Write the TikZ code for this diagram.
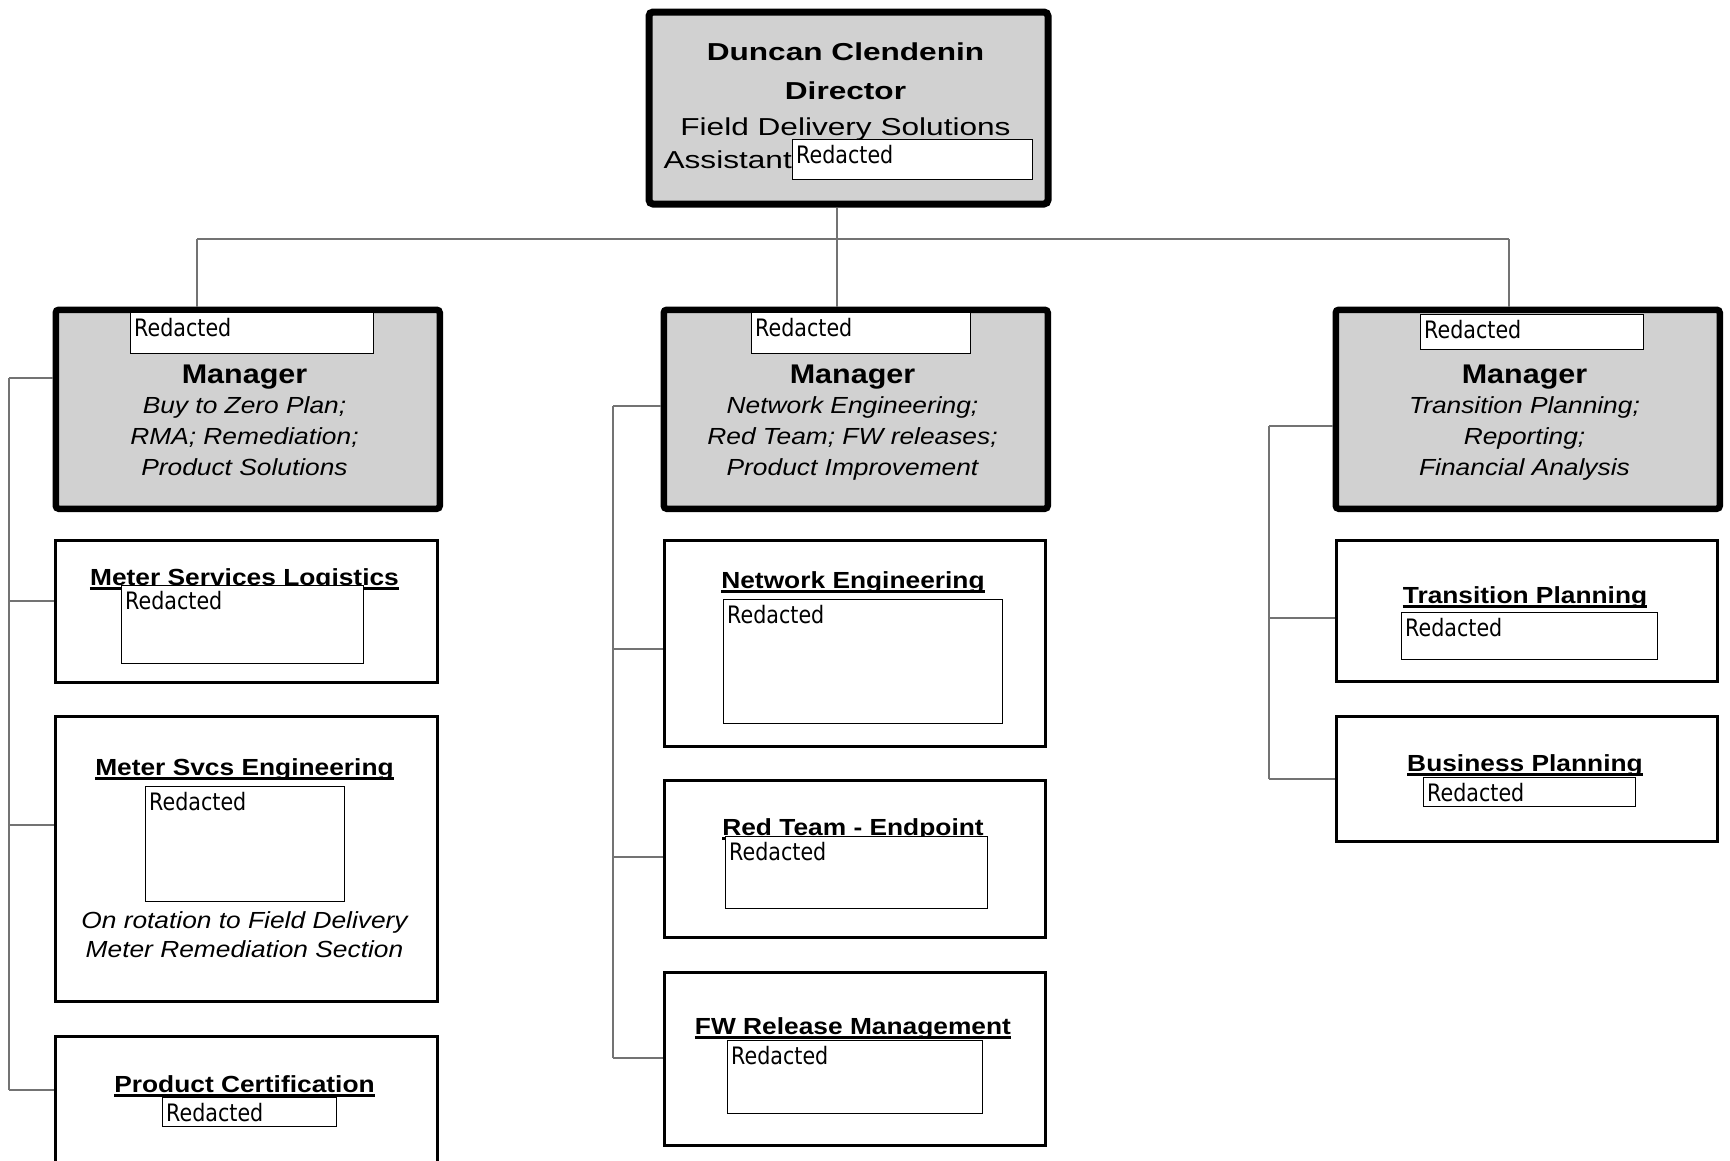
\documentclass[tikz,border=0pt]{standalone}
\usepackage{fontspec}
\setmainfont{Liberation Sans}[FakeStretch=1.13]
\newfontfamily\dirfont{Liberation Sans}[FakeStretch=1.29]
\newfontfamily\redfont{DejaVu Sans}[FakeStretch=0.86]
\tikzset{
  dirbox/.style={draw, line width=7pt, rounded corners=4pt, fill=black!18, inner sep=0pt, anchor=north west},
  mgrbox/.style={draw, line width=6.5pt, rounded corners=3pt, fill=black!18, inner sep=0pt, anchor=north west},
  unitbox/.style={draw, line width=3pt, fill=white, inner sep=0pt, anchor=north west},
  redbox/.style={draw, line width=1.2pt, fill=white, inner sep=0pt, anchor=north west},
  redtxt/.style={anchor=base west, inner sep=0pt, font=\redfont\fontsize{24}{28}\selectfont},
  dtxt/.style={anchor=base, inner sep=0pt, font=\dirfont\fontsize{24.5}{28}\selectfont},
  dbold/.style={anchor=base, inner sep=0pt, font=\dirfont\bfseries\fontsize{24.5}{28}\selectfont},
  mgrttl/.style={anchor=base, inner sep=0pt, font=\bfseries\fontsize{27}{30}\selectfont},
  itxt/.style={anchor=base, inner sep=0pt, font=\itshape\fontsize{23.3}{28}\selectfont},
  ttl/.style={anchor=base, inner sep=0pt, font=\bfseries\fontsize{23.3}{28}\selectfont},
  uline/.style={line width=2.5pt},
  conn/.style={draw=black!55, line width=1.3pt},
}
\begin{document}
\begin{tikzpicture}[x=1pt, y=-1pt]
\useasboundingbox (0,0) rectangle (1730,1160);
\clip (0,0) rectangle (1730,1160);

% ---------- boxes ----------
\node[dirbox, minimum width=399pt, minimum height=192pt] (dir) at (645.5,8.5) {};
\node[mgrbox, minimum width=384pt, minimum height=199pt] (mL) at (52.5,306.5) {};
\node[mgrbox, minimum width=384pt, minimum height=199pt] (mM) at (660.5,306.5) {};
\node[mgrbox, minimum width=384pt, minimum height=199pt] (mR) at (1332.5,306.5) {};

\node[unitbox, minimum width=382pt, minimum height=142pt] (uL1) at (53.5,538.5) {};
\node[unitbox, minimum width=382pt, minimum height=285pt] (uL2) at (53.5,714.5) {};
\node[unitbox, minimum width=382pt, minimum height=200pt] (uL3) at (53.5,1034.5) {};
\node[unitbox, minimum width=381pt, minimum height=206pt] (uM1) at (662.5,538.5) {};
\node[unitbox, minimum width=381pt, minimum height=157pt] (uM2) at (662.5,778.5) {};
\node[unitbox, minimum width=381pt, minimum height=173pt] (uM3) at (662.5,970.5) {};
\node[unitbox, minimum width=381pt, minimum height=141pt] (uR1) at (1334.5,538.5) {};
\node[unitbox, minimum width=381pt, minimum height=125pt] (uR2) at (1334.5,714.5) {};

% ---------- director text ----------
\node[dbold] (dname) at (845.5,60) {Duncan Clendenin};
\node[dbold] (dtitle) at (845.5,99) {Director};
\node[dtxt] (ddept) at (845.5,135) {Field Delivery Solutions};
\node[dtxt, anchor=base east] (dasst) at (792,168) {Assistant};

% ---------- manager text ----------
\node[mgrttl] (mLt) at (244.5,383) {Manager};
\node[itxt] (mLa) at (244.5,413) {Buy to Zero Plan;};
\node[itxt] (mLb) at (244.5,444) {RMA; Remediation;};
\node[itxt] (mLc) at (244.5,475) {Product Solutions};

\node[mgrttl] (mMt) at (852.5,383) {Manager};
\node[itxt] (mMa) at (852.5,413) {Network Engineering;};
\node[itxt] (mMb) at (852.5,444) {Red Team; FW releases;};
\node[itxt] (mMc) at (852.5,475) {Product Improvement};

\node[mgrttl] (mRt) at (1524.5,383) {Manager};
\node[itxt] (mRa) at (1524.5,413) {Transition Planning;};
\node[itxt] (mRb) at (1524.5,444) {Reporting;};
\node[itxt] (mRc) at (1524.5,475) {Financial Analysis};

% ---------- unit titles ----------
\node[ttl] (tL1) at (244.5,585) {Meter Services Logistics};
\node[ttl] (tL2) at (244.5,775) {Meter Svcs Engineering};
\node[itxt] (tL2a) at (244.5,928) {On rotation to Field Delivery};
\node[itxt] (tL2b) at (244.5,957) {Meter Remediation Section};
\node[ttl] (tL3) at (244.5,1092) {Product Certification};
\node[ttl] (tM1) at (853,588) {Network Engineering};
\node[ttl] (tM2) at (853,835) {Red Team - Endpoint};
\node[ttl] (tM3) at (853,1034) {FW Release Management};
\node[ttl] (tR1) at (1525,603) {Transition Planning};
\node[ttl] (tR2) at (1525,771) {Business Planning};
\foreach \t in {tL1,tL2,tL3,tM1,tM2,tM3,tR1,tR2}
  \draw[uline] ([yshift=-3.5pt]\t.base west) -- ([yshift=-3.5pt]\t.base east);

% ---------- redacted boxes ----------
\node[redbox, minimum width=240pt, minimum height=40pt] (rD) at (792,139) {};
\node[redbox, minimum width=243pt, minimum height=41pt] (rML) at (130,312) {};
\node[redbox, minimum width=219pt, minimum height=41pt] (rMM) at (751,312) {};
\node[redbox, minimum width=223pt, minimum height=35pt] (rMR) at (1420,314) {};
\node[redbox, minimum width=242pt, minimum height=78pt] (rL1) at (121,585) {};
\node[redbox, minimum width=199pt, minimum height=115pt] (rL2) at (145,786) {};
\node[redbox, minimum width=174pt, minimum height=29pt] (rL3) at (162,1097) {};
\node[redbox, minimum width=279pt, minimum height=124pt] (rM1) at (723,599) {};
\node[redbox, minimum width=262pt, minimum height=72pt] (rM2) at (725,836) {};
\node[redbox, minimum width=255pt, minimum height=73pt] (rM3) at (727,1040) {};
\node[redbox, minimum width=256pt, minimum height=47pt] (rR1) at (1401,612) {};
\node[redbox, minimum width=212pt, minimum height=29pt] (rR2) at (1423,777) {};
\foreach \r in {rD,rML,rMM,rMR,rL1,rL2,rL3,rM1,rM2,rM3,rR1,rR2}
  \node[redtxt] at ([xshift=4pt,yshift=-24pt]\r.north west) {Redacted};

% ---------- connectors ----------
\coordinate (bL) at (197,239);
\coordinate (bM) at (837,239);
\coordinate (bR) at (1509,239);
\draw[conn] (bM |- dir.south) -- (bM);
\draw[conn] (bL) -- (bR);
\draw[conn] (bL) -- (bL |- mL.north);
\draw[conn] (bM) -- (bM |- mM.north);
\draw[conn] (bR) -- (bR |- mR.north);

\coordinate (jL0) at (9,378);
\coordinate (jL1) at (9,601);
\coordinate (jL2) at (9,825);
\coordinate (jL3) at (9,1090);
\draw[conn] (jL0) -- (jL3);
\draw[conn] (jL0) -- (jL0 -| mL.west);
\draw[conn] (jL1) -- (jL1 -| uL1.west);
\draw[conn] (jL2) -- (jL2 -| uL2.west);
\draw[conn] (jL3) -- (jL3 -| uL3.west);

\coordinate (jM0) at (613,406);
\coordinate (jM1) at (613,649);
\coordinate (jM2) at (613,857);
\coordinate (jM3) at (613,1058);
\draw[conn] (jM0) -- (jM3);
\draw[conn] (jM0) -- (jM0 -| mM.west);
\draw[conn] (jM1) -- (jM1 -| uM1.west);
\draw[conn] (jM2) -- (jM2 -| uM2.west);
\draw[conn] (jM3) -- (jM3 -| uM3.west);

\coordinate (jR0) at (1269,426);
\coordinate (jR1) at (1269,618);
\coordinate (jR2) at (1269,779);
\draw[conn] (jR0) -- (jR2);
\draw[conn] (jR0) -- (jR0 -| mR.west);
\draw[conn] (jR1) -- (jR1 -| uR1.west);
\draw[conn] (jR2) -- (jR2 -| uR2.west);
\end{tikzpicture}
\end{document}
